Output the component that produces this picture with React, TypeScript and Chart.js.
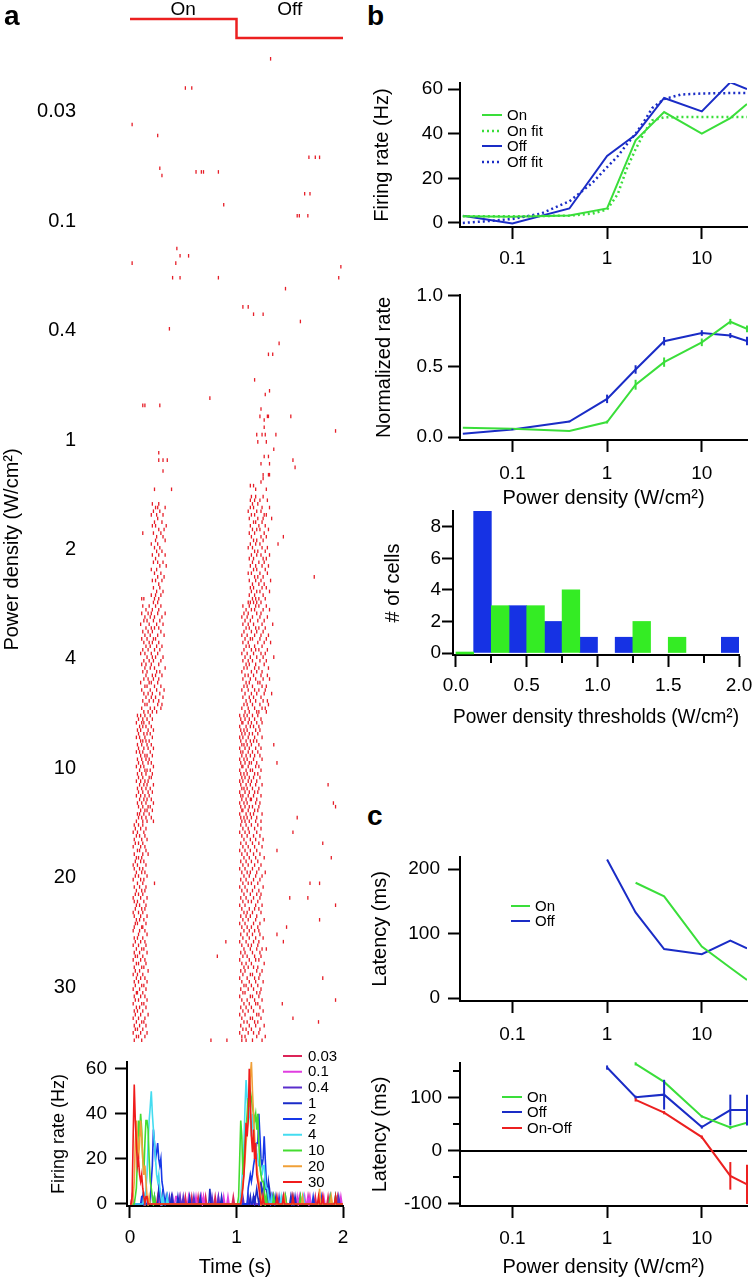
import React, { useEffect, useRef } from 'react';
import { Chart, registerables } from 'chart.js';

Chart.register(...registerables);

const FONT = '"Liberation Sans", Arial, Helvetica, sans-serif';
Chart.defaults.font.family = FONT;
Chart.defaults.color = '#000';

// ======================= DATA =======================
const powerLabels = ['0.03', '0.1', '0.4', '1', '2', '4', '10', '20', '30'];
const powerLevels = [0.03, 0.1, 0.4, 1, 2, 4, 10, 20, 30];

// light stimulus: on (level 1) for 0-1 s, off (level 0) for 1-2 s
const stimTimes = [0, 1, 1, 2];
const stimLevels = [1, 1, 0, 0];

// Raster: 30 trials per power level, spike times in centiseconds
const raster003 = [
  '132', '', '', '', '', '', '', '', '52 58', '', '', '', '', '', '',
  '', '', '', '2', '', '', '26', '', '', '', '', '', '168 174 178', '', '',
];
const raster01 = [
  '28', '62 67 69 83', '30', '', '', '', '', '164 169', '', '', '88', '', '', '157 159 167', '',
  '', '', '', '', '', '', '', '44', '', '47 55', '', '2 43', '198', '', '',
];
const raster04 = [
  '40 47 83 196', '', '', '146', '', '', '', '', '106 111', '', '116 125', '', '160', '', '37',
  '', '', '', '140', '', '', '130 134', '', '', '', '', '', '', '117', '',
];
const raster1 = [
  '', '131', '127', '75', '', '12 14 28', '123', '', '122 129 130 151', '126', '', '126', '193', '119 124 127 137', '',
  '120 128', '', '135', '27', '126 130', '27 31 35 153', '123 131', '155', '31', '125 130 131', '125', '123', '113 116', '23 39 118 128', '',
];
const raster2 = [
  '114 118 125', '113 117 122 129', '21 27 115 120', '24 26 33 113 116 124 131', '22 28 111 119 123',
  '20 25 31 114 117 126 128', '26 112 120 125 133', '23 30 116 118 124', '21 24 34 113 121 127', '27 32 115 119 122 130',
  '12 22 29 112 117 126', '25 31 114 123 128 144', '24 33 116 119 125', '20 26 113 118 122 139', '23 28 111 115 124 129',
  '25 30 117 120 127', '21 27 33 114 119 123 131', '24 112 116 125 128', '22 26 31 115 121 126', '28 34 113 118 124 130',
  '20 25 116 119 127', '23 29 111 114 122 129', '26 32 117 120 125 173', '21 24 30 112 118 123 132', '27 115 121 126',
  '22 28 113 116 124 128', '25 31 114 119 122 131', '20 24 29 112 117 125', '11 13 23 27 115 118 121 127', '22 26 111 113 116 119 123',
];
const raster4 = [
  '12 18 24 29 106 112 118 121 128', '15 21 27 109 114 117 125 131', '11 17 20 26 33 107 111 119 123', '14 19 23 30 105 110 115 122 129', '13 16 22 28 108 113 120 126',
  '10 18 25 31 106 111 116 124 134', '15 20 23 27 109 112 118 121 127', '12 17 21 29 107 114 119 125', '14 19 26 32 105 110 117 123 130', '11 16 22 24 108 113 115 122 128',
  '13 18 21 27 106 111 120 126 132', '15 19 25 30 109 112 117 124', '12 17 23 28 107 114 118 121 129', '10 14 20 26 105 110 116 123 127', '16 21 24 31 108 113 119 125 135',
  '13 18 22 29 106 111 115 122 128', '11 15 20 27 109 112 118 126', '14 19 23 33 107 110 117 121 130', '12 16 25 28 105 114 119 124', '15 21 24 30 108 111 116 123 129',
  '13 17 22 27 106 113 118 125 131', '10 18 20 26 109 112 120 122', '14 16 23 29 107 110 115 124 128', '11 19 25 32 105 111 117 121 127', '13 17 21 28 108 114 119 126 133',
  '15 20 24 31 106 112 116 123', '12 18 22 27 109 113 118 125 129', '14 16 26 30 107 110 115 122 130', '11 19 23 29 105 111 117 124 127', '13 17 21 25 108 112 119 121 128',
];
const raster10 = [
  '7 10 14 19 103 107 110 115 120', '8 12 16 21 104 108 112 117 123', '6 11 13 18 105 106 111 114 119 124', '9 12 15 20 103 109 113 116 121', '7 10 17 22 104 107 110 118 122',
  '8 13 16 19 105 108 112 115 120', '6 9 14 21 103 106 111 117 124', '10 12 15 18 104 109 113 116 119', '7 11 16 20 105 107 110 114 121 135', '8 13 17 22 103 108 112 118 123',
  '6 9 12 19 104 106 111 115 120', '10 14 16 21 105 109 113 117 122', '7 11 15 18 103 107 110 116 124', '8 12 17 20 104 108 112 114 119 138', '6 10 13 22 105 106 111 118 121',
  '9 14 16 19 103 109 113 115 123', '7 11 15 21 104 107 110 117 120', '8 12 18 20 105 108 112 116 122', '6 10 14 17 103 106 111 114 119', '9 13 16 22 104 109 113 118 124 186',
  '7 11 15 19 105 107 110 115 121', '8 12 17 21 103 108 112 117 120', '6 10 14 18 104 106 111 116 123', '9 13 16 20 105 109 113 114 119', '7 11 15 22 103 107 110 118 122 191',
  '8 12 17 19 104 108 112 115 121 193', '10 14 16 21 105 106 111 117 120', '7 9 13 18 103 109 113 116 124', '8 11 15 20 104 107 110 114 119 157', '6 12 16 22 105 108 112 118 123',
];
const raster20 = [
  '4 8 12 104 109 114 120', '5 10 15 106 111 117 123', '3 7 13 103 108 112 119 153', '6 9 14 105 110 116 122', '4 11 16 107 113 118 125',
  '5 8 12 104 109 115 121 181', '3 10 14 106 111 117 124', '7 9 15 103 108 113 119 138', '4 12 17 105 110 116 122', '6 8 11 107 112 118 126 189',
  '5 10 13 104 109 114 120', '3 7 15 106 111 117 123', '4 9 12 103 108 115 121', '6 11 14 105 110 113 119 127', '5 8 16 107 112 118 124',
  '3 10 13 104 109 116 122', '7 12 23 106 111 114 120 169 178', '4 9 15 103 108 117 125', '6 11 14 105 110 115 121', '5 8 12 107 113 119 123',
  '3 10 16 104 109 116 122 150 167', '4 7 13 106 111 114 120', '6 9 15 103 108 118 124 193', '5 11 14 105 112 117 121', '3 8 12 107 110 115 123',
  '4 10 16 104 109 113 119', '6 9 13 106 111 118 126 178', '5 7 15 103 108 116 122', '4 11 12 105 110 114 120 147', '3 9 14 107 112 117 121',
];
const raster30 = [
  '8 16 104 110 115 122 138', '4 7 12 106 112 118 125', '5 10 14 90 103 109 116 121 144', '3 8 15 105 111 114 120', '6 11 13 107 113 119 124 128',
  '4 9 16 104 108 115 122', '5 7 12 82 106 110 117 123', '3 10 14 103 112 118 121', '6 8 15 105 109 114 126', '4 11 13 107 111 116 120',
  '5 9 17 104 108 119 124', '3 7 12 106 113 115 122', '6 10 14 103 110 117 121 181', '4 8 16 105 112 118 125', '5 11 13 107 109 114 120',
  '3 9 15 104 111 116 123', '6 7 12 106 108 119 122', '4 10 14 103 113 115 121', '5 8 16 105 110 117 124 193', '3 11 13 107 112 118 120 143',
  '6 9 15 104 109 114 122', '4 7 12 106 111 116 125', '5 10 17 103 108 119 121', '3 8 14 105 113 115 123 153', '6 11 13 107 110 117 120 177',
  '4 9 15 104 112 118 126', '5 7 12 106 109 114 122', '3 10 16 103 111 116 121', '6 8 14 105 108 119 127', '4 11 76 91 105 109 115 124',
];
const rasterBlocks = [raster003, raster01, raster04, raster1, raster2, raster4, raster10, raster20, raster30];
const trialsPerBlock = 30;

// PSTH (10 ms bins): [bin index, firing rate Hz], bins not listed are 0
const psthBinWidth = 0.01;
const psthBinCount = 201;
const psth003 = [[2, 3.3], [26, 3.3], [52, 3.3], [58, 3.3], [64, 3.3], [71, 3.3], [80, 3.3], [97, 3.3], [132, 3.3], [152, 3.3], [168, 3.3], [174, 3.3], [178, 3.3], [186, 3.3], [195, 3.3]];
const psth01 = [[2, 3.3], [28, 3.3], [30, 3.3], [43, 3.3], [44, 3.3], [47, 3.3], [55, 3.3], [62, 3.3], [67, 3.3], [69, 3.3], [83, 3.3], [88, 3.3], [92, 3.3], [157, 3.3], [159, 3.3], [164, 3.3], [167, 3.3], [169, 3.3], [182, 3.3], [198, 3.3]];
const psth04 = [[37, 3.3], [40, 3.3], [47, 3.3], [50, 3.3], [60, 3.3], [77, 3.3], [83, 3.3], [106, 3.3], [111, 3.3], [116, 3.3], [117, 3.3], [125, 3.3], [130, 3.3], [134, 3.3], [140, 3.3], [146, 3.3], [160, 3.3], [188, 3.3], [196, 3.3]];
const psth1 = [[12, 3.3], [14, 3.3], [23, 3.3], [27, 6.7], [28, 3.3], [31, 6.7], [35, 3.3], [39, 3.3], [45, 3.3], [56, 3.3], [66, 3.3], [75, 6.7], [86, 3.3], [113, 3.3], [116, 3.3], [118, 3.3], [119, 6.7], [120, 3.3], [122, 3.3], [123, 10], [124, 3.3], [125, 6.7], [126, 10], [127, 6.7], [128, 6.7], [129, 3.3], [130, 10], [131, 6.7], [135, 3.3], [137, 3.3], [151, 3.3], [153, 3.3], [155, 3.3], [193, 3.3]];
const psth2 = [[11, 3.3], [12, 3.3], [20, 10], [21, 17], [22, 33], [23, 27], [24, 20], [25, 23], [26, 27], [27, 20], [28, 17], [29, 20], [30, 10], [31, 7], [32, 3.3], [34, 3.3], [111, 7], [112, 10], [113, 13], [114, 10], [115, 13], [116, 17], [117, 20], [118, 23], [119, 27], [120, 27], [121, 40], [122, 30], [123, 20], [124, 17], [125, 20], [126, 30], [127, 20], [128, 10], [129, 7], [130, 3.3], [131, 3.3], [133, 3.3], [144, 3.3], [172, 3.3], [180, 3.3]];
const psth4 = [[13, 3.3], [15, 7], [16, 13], [17, 27], [18, 37], [19, 43], [20, 50], [21, 40], [22, 33], [23, 27], [24, 20], [25, 13], [26, 10], [27, 13], [28, 7], [29, 3.3], [31, 3.3], [35, 3.3], [104, 3.3], [105, 10], [106, 17], [107, 27], [108, 43], [109, 55], [110, 47], [111, 37], [112, 43], [113, 37], [114, 30], [115, 40], [116, 33], [117, 27], [118, 27], [119, 23], [120, 20], [121, 17], [122, 17], [123, 13], [124, 13], [125, 17], [126, 17], [127, 10], [128, 7], [129, 7], [130, 3.3], [133, 3.3], [142, 3.3], [163, 3.3]];
const psth10 = [[5, 3.3], [6, 7], [7, 20], [8, 37], [9, 30], [10, 40], [11, 33], [12, 20], [13, 13], [14, 27], [15, 37], [16, 37], [17, 33], [18, 20], [19, 10], [20, 7], [21, 3.3], [23, 3.3], [102, 3.3], [103, 20], [104, 37], [105, 30], [106, 13], [107, 20], [108, 27], [109, 33], [110, 40], [111, 47], [112, 43], [113, 50], [114, 47], [115, 43], [116, 40], [117, 37], [118, 40], [119, 33], [120, 40], [121, 27], [122, 17], [123, 13], [124, 10], [125, 10], [126, 7], [128, 3.3], [135, 3.3], [146, 3.3], [160, 3.3], [188, 3.3], [193, 3.3]];
const psth20 = [[3, 3.3], [4, 10], [5, 27], [6, 37], [7, 30], [8, 20], [9, 27], [10, 37], [11, 30], [12, 20], [13, 13], [14, 17], [15, 10], [16, 3.3], [18, 3.3], [105, 3.3], [106, 10], [107, 13], [108, 20], [109, 27], [110, 33], [111, 40], [112, 47], [113, 57], [114, 63], [115, 50], [116, 40], [117, 30], [118, 20], [119, 17], [120, 13], [121, 10], [122, 7], [124, 3.3], [145, 3.3], [162, 3.3], [178, 6.7], [189, 3.3]];
const psth30 = [[2, 3.3], [3, 30], [4, 53], [5, 37], [6, 27], [7, 17], [8, 20], [9, 13], [10, 10], [11, 13], [12, 7], [13, 3.3], [15, 3.3], [16, 3.3], [105, 3.3], [106, 7], [107, 13], [108, 23], [109, 36], [110, 30], [111, 37], [112, 60], [113, 47], [114, 30], [115, 23], [116, 33], [117, 20], [118, 27], [119, 13], [120, 10], [121, 7], [122, 3.3], [125, 3.3], [138, 3.3], [144, 3.3], [153, 3.3], [177, 3.3], [181, 3.3], [193, 3.3]];
const psthSeries = [psth003, psth01, psth04, psth1, psth2, psth4, psth10, psth20, psth30];
const psthColors = ['#dc2458', '#e03ee0', '#5a2ecc', '#1a2bc8', '#1638e8', '#44dcf0', '#44dc30', '#f0a038', '#f01c1c'];

// b (top): firing rate vs power density
const rateOn = [3, 2.8, 3.4, 6.5, 37, 49.7, 40, 47, 53.3];
const rateOff = [3.2, -0.2, 6.5, 30, 39.5, 56, 50, 63, 60];
const fitX = [0.03, 0.05, 0.1, 0.2, 0.4, 0.7, 1, 1.3, 1.6, 2, 2.5, 3, 4, 6, 10, 20, 30];
const fitOn = [3, 3, 3, 3.1, 3.3, 4.2, 6, 13, 24, 33, 41, 46, 47.3, 47.5, 47.5, 47.5, 47.5];
const fitOff = [0, 0.7, 1.8, 4.2, 9.7, 18, 25, 30, 35, 40, 46, 51.5, 55.5, 57.5, 58, 58.2, 58.2];

// b (middle): normalized rate
const normOn = [0.066, 0.059, 0.042, 0.106, 0.37, 0.53, 0.67, 0.816, 0.765];
const normOnErr = [0, 0, 0, 0.01, 0.035, 0.033, 0.027, 0.02, 0.024];
const normOff = [0.024, 0.054, 0.11, 0.27, 0.478, 0.678, 0.736, 0.718, 0.68];
const normOffErr = [0, 0.005, 0.005, 0.03, 0.03, 0.03, 0.02, 0.018, 0.03];

// b (bottom): histogram of power density thresholds
const histBinWidth = 0.125;
const onThreshBinStarts = [0, 0.25, 0.5, 0.75, 1.25, 1.5];
const onThreshCounts = [0, 3, 3, 4, 2, 1];
const offThreshBinStarts = [0.125, 0.375, 0.625, 0.875, 1.125, 1.875];
const offThreshCounts = [9, 3, 2, 1, 1, 1];

// c (top): latency
const latOnX = [2, 4, 10, 20, 30];
const latOn = [179, 158, 80, 47, 28];
const latOffX = [1, 2, 4, 10, 20, 30];
const latOff = [215, 133, 76, 68, 89, 77];

// c (bottom): latency with error bars
const lat2OnX = [2, 4, 10, 20, 30];
const lat2On = [164, 130, 65, 44, 53];
const lat2OnErr = [3, 3, 2, 3, 3];
const lat2OffX = [1, 2, 4, 10, 20, 30];
const lat2Off = [157, 101, 106, 45, 77, 77];
const lat2OffErr = [4, 3, 28, 3, 29, 29];
const lat2DiffX = [2, 4, 10, 20, 30];
const lat2Diff = [96, 72, 26, -47, -63];
const lat2DiffErr = [3, 3, 3, 26, 37];

// ======================= STYLE =======================
const GREEN = '#3ade3a';
const BLUE = '#1a2cc6';
const RED = '#ec2020';
const HIST_GREEN = '#34ec24';
const HIST_BLUE = '#1632e4';
const RASTER_RED = '#e61e28';
const TICK_SIZE = 19;
const TITLE_SIZE = 20;

type Box = { x: number; y: number; w: number; h: number };
type Area = { l: number; t: number; r: number; b: number };

function pts(xs: number[], ys: number[]) {
  return xs.map((x, i) => ({ x, y: ys[i] }));
}

function killPadding(s: any) {
  s.paddingTop = 0;
  s.paddingBottom = 0;
  s.paddingLeft = 0;
  s.paddingRight = 0;
}

function axis(o: any) {
  return {
    type: o.type || 'linear',
    min: o.min,
    max: o.max,
    offset: false,
    reverse: !!o.reverse,
    afterFit: (s: any) => {
      if (o.horizontal) s.height = o.size;
      else s.width = o.size;
      killPadding(s);
    },
    afterBuildTicks: (s: any) => {
      s.ticks = o.ticks.map((v: number) => ({ value: v }));
    },
    border: { display: true, color: '#000', width: 2 },
    grid: {
      display: true,
      offset: false,
      drawOnChartArea: false,
      drawTicks: true,
      tickLength: o.tickLen || 12,
      tickWidth: 2,
      tickColor: '#000',
      color: '#000',
    },
    ticks: {
      display: !o.ownLabels,
      font: { size: TICK_SIZE },
      color: '#000',
      padding: o.pad,
      autoSkip: false,
      maxRotation: 0,
      minRotation: 0,
      callback: (v: any) => (o.fmt ? o.fmt(Number(v)) : String(v)),
    },
    title: o.title
      ? {
          display: true,
          text: o.title,
          color: '#000',
          font: { size: o.titleSize || TITLE_SIZE },
          padding: o.horizontal ? { top: 0, bottom: o.titlePad } : { top: o.titlePad, bottom: 0 },
        }
      : { display: false },
  };
}

function baseOptions(box: Box, area: Area, scales: any, bottomPad = 0) {
  return {
    responsive: false,
    animation: false,
    devicePixelRatio: 1,
    events: [],
    layout: {
      padding: { left: 0, top: area.t - box.y, right: box.x + box.w - area.r, bottom: bottomPad },
    },
    plugins: { legend: { display: false }, tooltip: { enabled: false }, title: { display: false } },
    scales,
  };
}

function decor(box: Box, d: any) {
  return {
    id: 'decor',
    beforeDatasetsDraw(chart: any) {
      const ctx = chart.ctx;
      const a = chart.chartArea;
      if (d.zeroLine) {
        const y = chart.scales.y.getPixelForValue(0);
        ctx.save();
        ctx.strokeStyle = '#000';
        ctx.lineWidth = 2;
        ctx.beginPath();
        ctx.moveTo(a.left, y);
        ctx.lineTo(a.right, y);
        ctx.stroke();
        ctx.restore();
      }
    },
    afterDatasetsDraw(chart: any) {
      const ctx = chart.ctx;
      chart.data.datasets.forEach((ds: any, i: number) => {
        if (!ds.errorBars) return;
        const meta = chart.getDatasetMeta(i);
        const ys = chart.scales.y;
        ctx.save();
        ctx.strokeStyle = ds.borderColor;
        ctx.lineWidth = 2;
        meta.data.forEach((el: any, j: number) => {
          const e = ds.errorBars[j];
          if (!e) return;
          const v = ds.data[j].y;
          ctx.beginPath();
          ctx.moveTo(el.x, ys.getPixelForValue(v - e));
          ctx.lineTo(el.x, ys.getPixelForValue(v + e));
          ctx.stroke();
        });
        ctx.restore();
      });
    },
    afterDraw(chart: any) {
      const ctx = chart.ctx;
      const a = chart.chartArea;
      if (d.xLabels) {
        const xl = d.xLabels;
        const sc = chart.scales.x;
        ctx.save();
        ctx.font = `${TICK_SIZE}px ${FONT}`;
        ctx.fillStyle = '#000';
        ctx.textAlign = 'center';
        ctx.textBaseline = 'middle';
        xl.values.forEach((v: number, i: number) => {
          ctx.fillText(xl.labels[i], sc.getPixelForValue(v), xl.y - box.y);
        });
        ctx.restore();
      }
      if (d.minor) {
        const m = d.minor;
        const sc = chart.scales[m.axis];
        ctx.save();
        ctx.strokeStyle = '#000';
        ctx.lineWidth = 2;
        m.values.forEach((v: number) => {
          const p = Math.round(sc.getPixelForValue(v));
          ctx.beginPath();
          if (m.axis === 'x') {
            ctx.moveTo(p, a.bottom);
            ctx.lineTo(p, a.bottom + m.len);
          } else {
            ctx.moveTo(a.left, p);
            ctx.lineTo(a.left - m.len, p);
          }
          ctx.stroke();
        });
        ctx.restore();
      }
      if (d.legend) {
        const L = d.legend;
        ctx.save();
        ctx.font = `${L.size}px ${FONT}`;
        ctx.textBaseline = 'middle';
        ctx.textAlign = 'left';
        L.items.forEach((it: any, i: number) => {
          const y = L.ys[i] - box.y;
          ctx.strokeStyle = it.color;
          ctx.lineWidth = it.width || 2;
          ctx.setLineDash(it.dash || []);
          ctx.beginPath();
          ctx.moveTo(L.x1 - box.x, y);
          ctx.lineTo(L.x2 - box.x, y);
          ctx.stroke();
          ctx.setLineDash([]);
          ctx.fillStyle = '#000';
          ctx.fillText(it.label, L.tx - box.x, y + 0.5);
        });
        ctx.restore();
      }
      if (d.stim) {
        const s = d.stim;
        const xs = chart.scales.x;
        ctx.save();
        ctx.strokeStyle = RED;
        ctx.lineWidth = 2.5;
        ctx.beginPath();
        s.times.forEach((t: number, i: number) => {
          const x = xs.getPixelForValue(t);
          const y = s.levels[i] ? s.yHigh : s.yLow;
          if (i === 0) ctx.moveTo(x, y);
          else ctx.lineTo(x, y);
        });
        ctx.stroke();
        ctx.fillStyle = '#000';
        ctx.font = `19px ${FONT}`;
        ctx.textAlign = 'center';
        ctx.textBaseline = 'middle';
        ctx.fillText('On', xs.getPixelForValue(0.5), s.textY);
        ctx.fillText('Off', xs.getPixelForValue(1.5), s.textY);
        ctx.restore();
      }
    },
  };
}

function ChartCanvas({ box, build }: { box: Box; build: () => any }) {
  const ref = useRef<HTMLCanvasElement>(null);
  useEffect(() => {
    const chart = new Chart(ref.current as HTMLCanvasElement, build());
    return () => chart.destroy();
  }, []);
  return (
    <canvas
      ref={ref}
      width={box.w}
      height={box.h}
      style={{ position: 'absolute', left: box.x, top: box.y, width: box.w, height: box.h }}
    />
  );
}

const lineDs = (xs: number[], ys: number[], color: string, extra: any = {}) => ({
  data: pts(xs, ys),
  borderColor: color,
  backgroundColor: color,
  borderWidth: 2,
  pointRadius: 0,
  showLine: true,
  fill: false,
  tension: 0,
  ...extra,
});

const logTicks = [0.1, 1, 10];
const logTickLabels = ['0.1', '1', '10'];

// ---------------- panel builders ----------------
const rasterBox: Box = { x: 0, y: 0, w: 360, h: 1048 };
const rasterArea: Area = { l: 130, t: 57, r: 343, b: 1042 };
function buildRaster() {
  const points: { x: number; y: number }[] = [];
  rasterBlocks.forEach((block, b) => {
    block.forEach((row, r) => {
      const s = row.trim();
      if (!s) return;
      s.split(/\s+/).forEach((t) => points.push({ x: Number(t) / 100, y: b * trialsPerBlock + r }));
    });
  });
  const nRows = rasterBlocks.length * trialsPerBlock;
  return {
    type: 'scatter',
    data: {
      datasets: [
        {
          data: points,
          pointStyle: 'line',
          rotation: 90,
          pointRadius: 1.8,
          borderWidth: 1.3,
          borderColor: RASTER_RED,
          backgroundColor: RASTER_RED,
        },
      ],
    },
    options: {
      ...baseOptions(rasterBox, rasterArea, {
        x: { type: 'linear', min: 0, max: 2, display: false },
        y: {
          type: 'linear',
          min: -0.5,
          max: nRows - 0.5,
          reverse: true,
          afterFit: (s: any) => {
            s.width = rasterArea.l - rasterBox.x;
            killPadding(s);
          },
          afterBuildTicks: (s: any) => {
            s.ticks = powerLabels.map((_, i) => ({ value: i * trialsPerBlock + (trialsPerBlock - 1) / 2 }));
          },
          border: { display: false },
          grid: { display: false, drawTicks: false },
          ticks: {
            font: { size: TITLE_SIZE },
            color: '#000',
            padding: 54,
            autoSkip: false,
            callback: (v: any) => powerLabels[Math.round((Number(v) - (trialsPerBlock - 1) / 2) / trialsPerBlock)],
          },
          title: {
            display: true,
            text: 'Power density (W/cm²)',
            color: '#000',
            font: { size: TITLE_SIZE },
            padding: { top: 0, bottom: 0 },
          },
        },
      }, rasterBox.y + rasterBox.h - rasterArea.b),
    },
    plugins: [decor(rasterBox, { stim: { times: stimTimes, levels: stimLevels, yHigh: 19, yLow: 38, textY: 10 } })],
  };
}

const psthBox: Box = { x: 20, y: 1040, w: 340, h: 240 };
const psthArea: Area = { l: 127, t: 1062, r: 343, b: 1206 };
function buildPsth() {
  const datasets = psthSeries.map((pairs, i) => {
    const m = new Map<number, number>(pairs.map((p) => [p[0], p[1]] as [number, number]));
    const data = [];
    for (let k = 0; k < psthBinCount; k++) data.push({ x: +(k * psthBinWidth).toFixed(2), y: m.get(k) || 0 });
    return {
      data,
      borderColor: psthColors[i],
      backgroundColor: psthColors[i],
      borderWidth: 1.6,
      pointRadius: 0,
      showLine: true,
      tension: 0,
      order: psthSeries.length - 1 - i,
    };
  });
  return {
    type: 'scatter',
    data: { datasets },
    options: baseOptions(psthBox, psthArea, {
      x: axis({ horizontal: true, size: psthBox.y + psthBox.h - psthArea.b, min: -0.028, max: 2, ticks: [0, 1, 2], pad: 8, title: 'Time (s)', titlePad: 1 }),
      y: axis({ size: psthArea.l - psthBox.x, min: -0.9, max: 63, ticks: [0, 20, 40, 60], pad: 8, title: 'Firing rate (Hz)', titleSize: 18, titlePad: 28 }),
    }),
    plugins: [
      decor(psthBox, {
        legend: {
          size: 15,
          x1: 283,
          x2: 302,
          tx: 308,
          ys: powerLabels.map((_, i) => 1056 + i * 15.75),
          items: powerLabels.map((l, i) => ({ label: l, color: psthColors[i] })),
        },
      }),
    ],
  };
}

const bTopBox: Box = { x: 360, y: 60, w: 395, h: 225 };
const bTopArea: Area = { l: 460, t: 83, r: 747, b: 227 };
function buildBTop() {
  return {
    type: 'scatter',
    data: {
      datasets: [
        lineDs(fitX, fitOn, GREEN, { borderDash: [2, 3], borderWidth: 2.5 }),
        lineDs(fitX, fitOff, BLUE, { borderDash: [2, 3], borderWidth: 2.5 }),
        lineDs(powerLevels, rateOn, GREEN),
        lineDs(powerLevels, rateOff, BLUE),
      ],
    },
    options: baseOptions(bTopBox, bTopArea, {
      x: axis({ type: 'logarithmic', horizontal: true, size: bTopBox.y + bTopBox.h - bTopArea.b, min: 0.028, max: 30, ticks: logTicks, pad: 9, ownLabels: true }),
      y: axis({ size: bTopArea.l - bTopBox.x, min: -1.8, max: 62.7, ticks: [0, 20, 40, 60], pad: 5, title: 'Firing rate (Hz)', titlePad: 10 }),
    }),
    plugins: [
      decor(bTopBox, {
        xLabels: { values: logTicks, labels: logTickLabels, y: 259 },
        legend: {
          size: 15,
          x1: 482,
          x2: 502,
          tx: 507,
          ys: [115, 131, 146, 162],
          items: [
            { label: 'On', color: GREEN },
            { label: 'On fit', color: GREEN, dash: [2, 3], width: 2.5 },
            { label: 'Off', color: BLUE },
            { label: 'Off fit', color: BLUE, dash: [2, 3], width: 2.5 },
          ],
        },
      }),
    ],
  };
}

const bMidBox: Box = { x: 360, y: 280, w: 395, h: 232 };
const bMidArea: Area = { l: 460, t: 295, r: 747, b: 440 };
function buildBMid() {
  return {
    type: 'scatter',
    data: {
      datasets: [
        lineDs(powerLevels, normOn, GREEN, { errorBars: normOnErr }),
        lineDs(powerLevels, normOff, BLUE, { errorBars: normOffErr }),
      ],
    },
    options: baseOptions(bMidBox, bMidArea, {
      x: axis({ type: 'logarithmic', horizontal: true, size: bMidBox.y + bMidBox.h - bMidArea.b, min: 0.028, max: 30, ticks: logTicks, pad: 10, title: 'Power density (W/cm²)', titlePad: 2 }),
      y: axis({ size: bMidArea.l - bMidBox.x, min: -0.021, max: 1.005, ticks: [0, 0.5, 1], fmt: (v: number) => v.toFixed(1), pad: 5, title: 'Normalized rate', titlePad: 12 }),
    }),
    plugins: [decor(bMidBox, {})],
  };
}

const histBox: Box = { x: 370, y: 500, w: 385, h: 235 };
const histArea: Area = { l: 453, t: 511, r: 739, b: 655 };
function buildHist() {
  const barDs = (starts: number[], counts: number[], color: string, extra: any = {}) => ({
    data: starts.map((s, i) => ({ x: s + histBinWidth / 2, y: counts[i] })),
    backgroundColor: color,
    borderWidth: 0,
    barPercentage: 1,
    categoryPercentage: 1,
    grouped: false,
    ...extra,
  });
  return {
    type: 'bar',
    data: {
      datasets: [
        barDs(onThreshBinStarts, onThreshCounts, HIST_GREEN, { minBarLength: 2 }),
        barDs(offThreshBinStarts, offThreshCounts, HIST_BLUE),
      ],
    },
    options: baseOptions(histBox, histArea, {
      x: axis({ horizontal: true, size: histBox.y + histBox.h - histArea.b, min: -0.021, max: 2, ticks: [0, 0.5, 1, 1.5, 2], fmt: (v: number) => v.toFixed(1), pad: 7, title: 'Power density thresholds (W/cm²)', titlePad: 6 }),
      y: axis({ size: histArea.l - histBox.x, min: -0.126, max: 9, ticks: [0, 2, 4, 6, 8], tickLen: 11, pad: 1, title: '# of cells', titlePad: 11 }),
    }),
    plugins: [decor(histBox, { minor: { axis: 'x', values: [0.25, 0.75, 1.25, 1.75], len: 8 } })],
  };
}

const cTopBox: Box = { x: 360, y: 845, w: 395, h: 210 };
const cTopArea: Area = { l: 460, t: 857, r: 747, b: 1001 };
function buildCTop() {
  return {
    type: 'scatter',
    data: { datasets: [lineDs(latOnX, latOn, GREEN), lineDs(latOffX, latOff, BLUE)] },
    options: baseOptions(cTopBox, cTopArea, {
      x: axis({ type: 'logarithmic', horizontal: true, size: cTopBox.y + cTopBox.h - cTopArea.b, min: 0.028, max: 30, ticks: logTicks, pad: 10 }),
      y: axis({ size: cTopArea.l - cTopBox.x, min: -4.65, max: 219, ticks: [0, 100, 200], pad: 8, title: 'Latency (ms)', titlePad: 8 }),
    }),
    plugins: [
      decor(cTopBox, {
        legend: {
          size: 15,
          x1: 511,
          x2: 530,
          tx: 535,
          ys: [906, 921],
          items: [
            { label: 'On', color: GREEN },
            { label: 'Off', color: BLUE },
          ],
        },
      }),
    ],
  };
}

const cBotBox: Box = { x: 360, y: 1045, w: 395, h: 235 };
const cBotArea: Area = { l: 460, t: 1063, r: 747, b: 1206 };
function buildCBot() {
  return {
    type: 'scatter',
    data: {
      datasets: [
        lineDs(lat2OnX, lat2On, GREEN, { errorBars: lat2OnErr }),
        lineDs(lat2OffX, lat2Off, BLUE, { errorBars: lat2OffErr }),
        lineDs(lat2DiffX, lat2Diff, RED, { errorBars: lat2DiffErr }),
      ],
    },
    options: baseOptions(cBotBox, cBotArea, {
      x: axis({ type: 'logarithmic', horizontal: true, size: cBotBox.y + cBotBox.h - cBotArea.b, min: 0.028, max: 30, ticks: logTicks, pad: 9, title: 'Power density (W/cm²)', titlePad: 1 }),
      y: axis({ size: cBotArea.l - cBotBox.x, min: -103.8, max: 165.6, ticks: [-100, 0, 100], pad: 6, title: 'Latency (ms)', titlePad: 8 }),
    }),
    plugins: [
      decor(cBotBox, {
        zeroLine: true,
        minor: { axis: 'y', values: [-50, 50, 150], len: 7 },
        legend: {
          size: 15,
          x1: 502,
          x2: 522,
          tx: 527,
          ys: [1097, 1112, 1128],
          items: [
            { label: 'On', color: GREEN },
            { label: 'Off', color: BLUE },
            { label: 'On-Off', color: RED },
          ],
        },
      }),
    ],
  };
}

const letterStyle = (left: number, top: number): React.CSSProperties => ({
  position: 'absolute',
  left,
  top,
  font: `bold 28px ${FONT}`,
  lineHeight: '28px',
  color: '#000',
});

export default function App() {
  return (
    <div style={{ position: 'absolute', left: 0, top: 0, width: 755, height: 1280, background: '#fff', overflow: 'hidden' }}>
      <ChartCanvas box={rasterBox} build={buildRaster} />
      <ChartCanvas box={psthBox} build={buildPsth} />
      <ChartCanvas box={bTopBox} build={buildBTop} />
      <ChartCanvas box={bMidBox} build={buildBMid} />
      <ChartCanvas box={histBox} build={buildHist} />
      <ChartCanvas box={cTopBox} build={buildCTop} />
      <ChartCanvas box={cBotBox} build={buildCBot} />
      <div style={letterStyle(4, 2)}>a</div>
      <div style={letterStyle(367, 2)}>b</div>
      <div style={letterStyle(367, 802)}>c</div>
    </div>
  );
}
